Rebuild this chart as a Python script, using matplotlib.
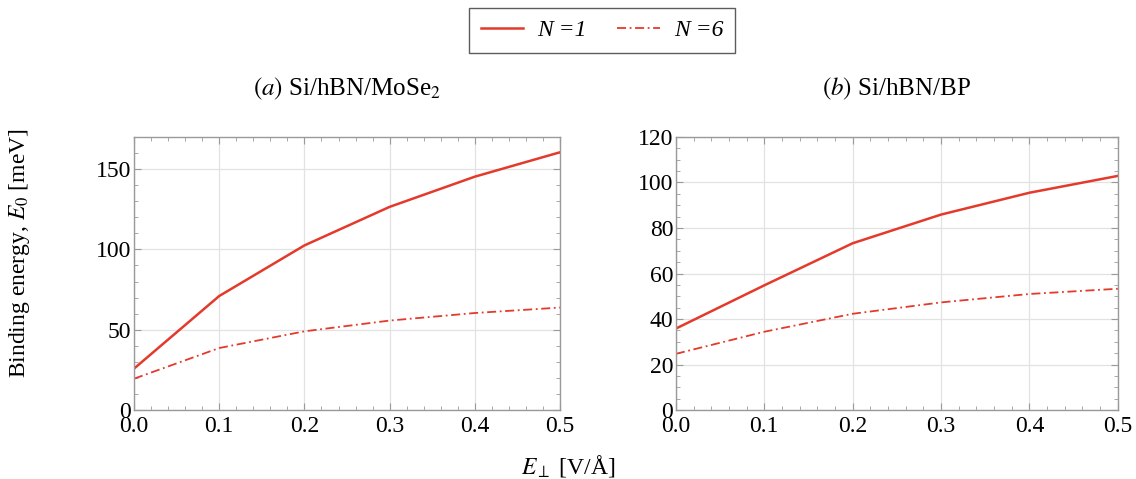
import matplotlib
matplotlib.use('Agg')
import matplotlib.pyplot as plt
from matplotlib.ticker import MultipleLocator

plt.rcParams['font.family'] = ['Liberation Serif', 'DejaVu Serif']
plt.rcParams['mathtext.fontset'] = 'stix'

# --- dados ---
campo = [0.0, 0.1, 0.2, 0.3, 0.4, 0.5]  # E_perp [V/Å]

mose2_n1 = [25.8, 71.0, 102.5, 126.5, 145.3, 160.5]
mose2_n6 = [19.5, 38.6, 49.0, 55.7, 60.4, 63.8]

bp_n1 = [35.8, 54.8, 73.3, 85.9, 95.5, 102.9]
bp_n6 = [24.7, 34.4, 42.3, 47.3, 51.0, 53.3]

titulos = [r'$(a)$ Si/hBN/MoSe$_2$', r'$(b)$ Si/hBN/BP']
rotulos = ['N =1', 'N =6']

vermelho = '#e33a2b'
cinza = '#9a9a9a'

fig = plt.figure(figsize=(11.36, 4.79), dpi=100)
ax1 = fig.add_axes([0.118, 0.144, 0.375, 0.570])
ax2 = fig.add_axes([0.595, 0.144, 0.389, 0.570])

config = [
    (ax1, mose2_n1, mose2_n6, 170, 50, 10),
    (ax2, bp_n1, bp_n6, 120, 20, 5),
]

for i, (ax, n1, n6, ymax, passo, menor) in enumerate(config):
    l1, = ax.plot(campo, n1, color=vermelho, lw=1.8, label=rotulos[0])
    l6, = ax.plot(campo, n6, color=vermelho, lw=1.3, dashes=[5, 2, 1, 2], label=rotulos[1])
    ax.set_xlim(0, 0.5)
    ax.set_ylim(0, ymax)
    ax.xaxis.set_major_locator(MultipleLocator(0.1))
    ax.xaxis.set_minor_locator(MultipleLocator(0.02))
    ax.yaxis.set_major_locator(MultipleLocator(passo))
    ax.yaxis.set_minor_locator(MultipleLocator(menor))
    ax.xaxis.set_major_formatter(plt.FuncFormatter(lambda v, p: f'{v:.1f}'))
    ax.grid(True, which='major', color='#e2e2e2', lw=0.9)
    ax.set_axisbelow(True)
    for s in ax.spines.values():
        s.set_color(cinza)
        s.set_linewidth(1.0)
    ax.tick_params(which='both', direction='in', top=True, right=True, color=cinza,
                   labelsize=17, pad=2)
    ax.tick_params(axis='x', which='major', pad=4)
    ax.tick_params(which='major', length=5)
    ax.tick_params(which='minor', length=3)
    ax.set_title(titulos[i], fontsize=18, pad=30)

fig.text(0.5, 0.028, r'$E_{\perp}$ [V/Å]', ha='center', va='center', fontsize=17)
fig.text(0.017, 0.472, r'Binding energy, $E_0$ [meV]', ha='center', va='center',
         rotation=90, fontsize=17)

leg = fig.legend(handles=[l1, l6], loc='upper center', bbox_to_anchor=(0.53, 0.983),
                 borderaxespad=0, ncol=2, prop={'size': 17, 'style': 'italic'},
                 frameon=True, fancybox=False, edgecolor='#333333', handlelength=1.8,
                 columnspacing=1.3, borderpad=0.5, handletextpad=0.6)
leg.get_frame().set_linewidth(1.0)

plt.savefig('out.png', dpi=100)
